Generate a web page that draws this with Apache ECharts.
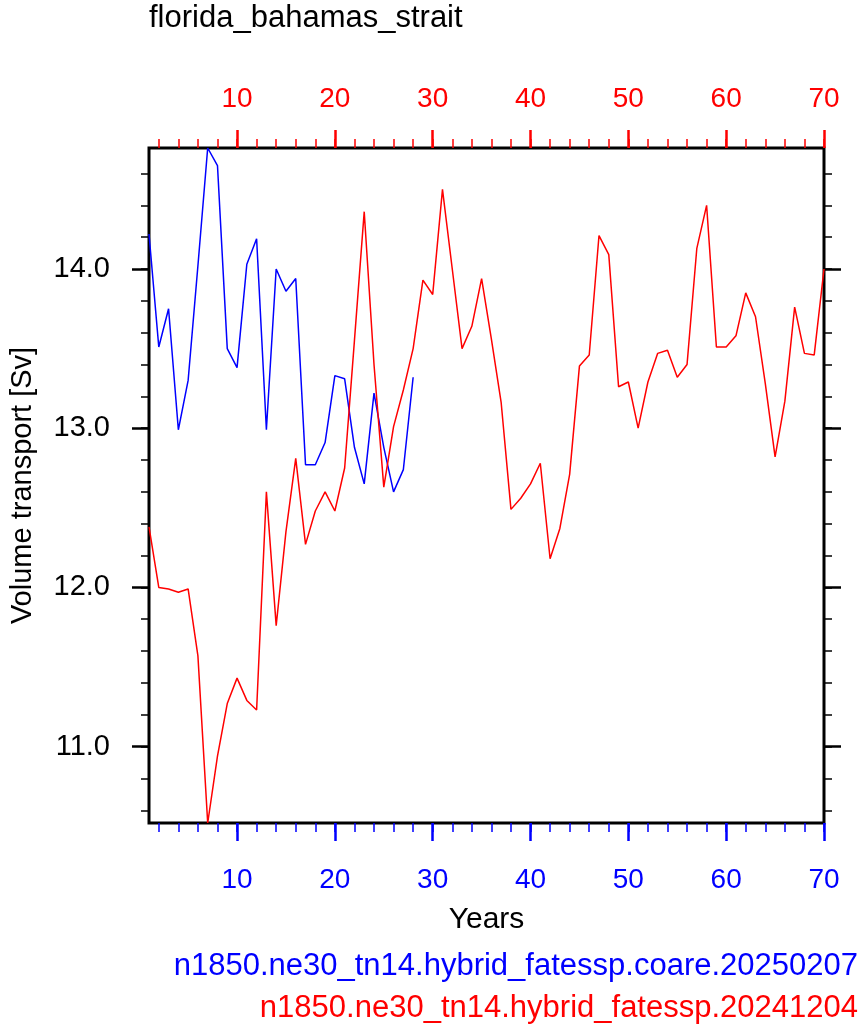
<!DOCTYPE html>
<html>
<head>
<meta charset="utf-8">
<title>florida_bahamas_strait</title>
<script src="https://cdn.jsdelivr.net/npm/echarts@6/dist/echarts.min.js"></script>
<style>
    html, body { margin: 0; padding: 0; background: #fff; }
    #main { width: 863px; height: 1035px; }
</style>
</head>
<body>
<div id="main"></div>
<script>
// 年份 1..70, blue run only covers the first 28 years
var blueName = 'n1850.ne30_tn14.hybrid_fatessp.coare.20250207';
var redName = 'n1850.ne30_tn14.hybrid_fatessp.20241204';

var blueValues = [14.22, 13.51, 13.75, 12.99, 13.30, 14.02, 14.76, 14.65, 13.50, 13.38,
    14.03, 14.19, 12.99, 14.00, 13.86, 13.94, 12.77, 12.77, 12.91, 13.33,
    13.31, 12.88, 12.65, 13.22, 12.88, 12.60, 12.74, 13.32];

var redValues = [12.38, 12.00, 11.99, 11.97, 11.99, 11.57, 10.52, 10.94, 11.27, 11.43,
    11.29, 11.23, 12.60, 11.76, 12.35, 12.81, 12.27, 12.48, 12.60, 12.48,
    12.75, 13.55, 14.36, 13.40, 12.63, 13.01, 13.24, 13.50, 13.93, 13.84,
    14.50, 14.00, 13.50, 13.64, 13.94, 13.56, 13.16, 12.49, 12.56, 12.65,
    12.78, 12.18, 12.37, 12.71, 13.39, 13.46, 14.21, 14.09, 13.26, 13.29,
    13.00, 13.29, 13.47, 13.49, 13.32, 13.40, 14.13, 14.40, 13.51, 13.51,
    13.58, 13.85, 13.70, 13.28, 12.82, 13.17, 13.76, 13.47, 13.46, 14.00];

var xMajorTicks = [10, 20, 30, 40, 50, 60, 70];
var xMinorTicks = [2, 4, 6, 8, 10, 12, 14, 16, 18, 20, 22, 24, 26, 28, 30, 32, 34, 36, 38, 40,
    42, 44, 46, 48, 50, 52, 54, 56, 58, 60, 62, 64, 66, 68, 70];
var yMajorTicks = [11, 12, 13, 14];
var yMinorTicks = [10.6, 10.8, 11.0, 11.2, 11.4, 11.6, 11.8, 12.0, 12.2, 12.4, 12.6, 12.8,
    13.0, 13.2, 13.4, 13.6, 13.8, 14.0, 14.2, 14.4, 14.6];

var FONT = '"Liberation Sans", Arial, Helvetica, sans-serif';
var BLUE = '#0000ff';
var RED = '#ff0000';

// y range follows the data extent (like the original plot)
var allValues = blueValues.concat(redValues);
var yMin = Math.min.apply(null, allValues);
var yMax = Math.max.apply(null, allValues);

function toPairs(values) {
    return values.map(function(v, i) {
        return [i + 1, v];
    });
}

var myChart = echarts.init(document.getElementById('main'));

var gridBox = { left: 149, top: 148, width: 675, height: 675 };

function xAxisCfg(grid, pos, color, ticks, len, width, labelMargin) {
    return {
        type: 'value',
        gridIndex: grid,
        position: pos,
        min: 1,
        max: 70,
        axisLine: { show: false },
        splitLine: { show: false },
        axisTick: {
            show: true,
            inside: false,
            length: len,
            customValues: ticks,
            lineStyle: { color: color, width: width }
        },
        axisLabel: labelMargin ? {
            show: true,
            customValues: xMajorTicks,
            margin: labelMargin,
            color: color,
            fontSize: 28,
            fontFamily: FONT
        } : { show: false }
    };
}

function yAxisCfg(grid, pos, ticks, len, width, labels) {
    return {
        type: 'value',
        gridIndex: grid,
        position: pos,
        min: yMin,
        max: yMax,
        axisLine: { show: false },
        splitLine: { show: false },
        axisTick: {
            show: true,
            inside: false,
            length: len,
            customValues: ticks,
            lineStyle: { color: '#000', width: width }
        },
        axisLabel: labels ? {
            show: true,
            customValues: yMajorTicks,
            margin: 39,
            color: '#000',
            fontSize: 29,
            fontFamily: FONT,
            formatter: function(v) { return v.toFixed(1); }
        } : { show: false }
    };
}

var xBottom = xAxisCfg(0, 'bottom', BLUE, xMinorTicks, 9, 1.5, 43);
xBottom.name = 'Years';
xBottom.nameLocation = 'middle';
xBottom.nameGap = 82;
xBottom.nameTextStyle = { color: '#000', fontSize: 30, fontFamily: FONT };

var yLeft = yAxisCfg(0, 'left', yMinorTicks, 8, 1.5, true);
yLeft.name = 'Volume transport [Sv]';
yLeft.nameLocation = 'middle';
yLeft.nameGap = 112;
yLeft.nameTextStyle = { color: '#000', fontSize: 29, fontFamily: FONT };

var option = {
    backgroundColor: '#fff',
    animation: false,
    title: {
        text: 'florida_bahamas_strait',
        left: 149,
        top: 3,
        padding: 0,
        textStyle: { color: '#000', fontSize: 31, fontWeight: 'normal', fontFamily: FONT }
    },
    grid: [
        Object.assign({ show: true, borderColor: '#000', borderWidth: 3, backgroundColor: 'transparent' }, gridBox),
        Object.assign({ show: false }, gridBox)
    ],
    xAxis: [
        xBottom,
        xAxisCfg(0, 'top', RED, xMinorTicks, 9, 1.5, 35),
        xAxisCfg(1, 'bottom', BLUE, xMajorTicks, 18, 2.5, 0),
        xAxisCfg(1, 'top', RED, xMajorTicks, 18, 2.5, 0)
    ],
    yAxis: [
        yLeft,
        yAxisCfg(0, 'right', yMinorTicks, 8, 1.5, false),
        yAxisCfg(1, 'left', yMajorTicks, 17, 2.5, false),
        yAxisCfg(1, 'right', yMajorTicks, 17, 2.5, false)
    ],
    graphic: [{
        type: 'text',
        right: 5,
        top: 951,
        style: { text: blueName, fill: BLUE, font: '31px ' + FONT }
    }, {
        type: 'text',
        right: 5,
        top: 993,
        style: { text: redName, fill: RED, font: '31px ' + FONT }
    }],
    series: [{
        name: blueName,
        type: 'line',
        xAxisIndex: 0,
        yAxisIndex: 0,
        showSymbol: false,
        symbol: 'none',
        lineStyle: { color: BLUE, width: 1.5 },
        itemStyle: { color: BLUE },
        data: toPairs(blueValues)
    }, {
        name: redName,
        type: 'line',
        xAxisIndex: 1,
        yAxisIndex: 0,
        showSymbol: false,
        symbol: 'none',
        lineStyle: { color: RED, width: 1.5 },
        itemStyle: { color: RED },
        data: toPairs(redValues)
    }]
};

myChart.setOption(option);
</script>
</body>
</html>
